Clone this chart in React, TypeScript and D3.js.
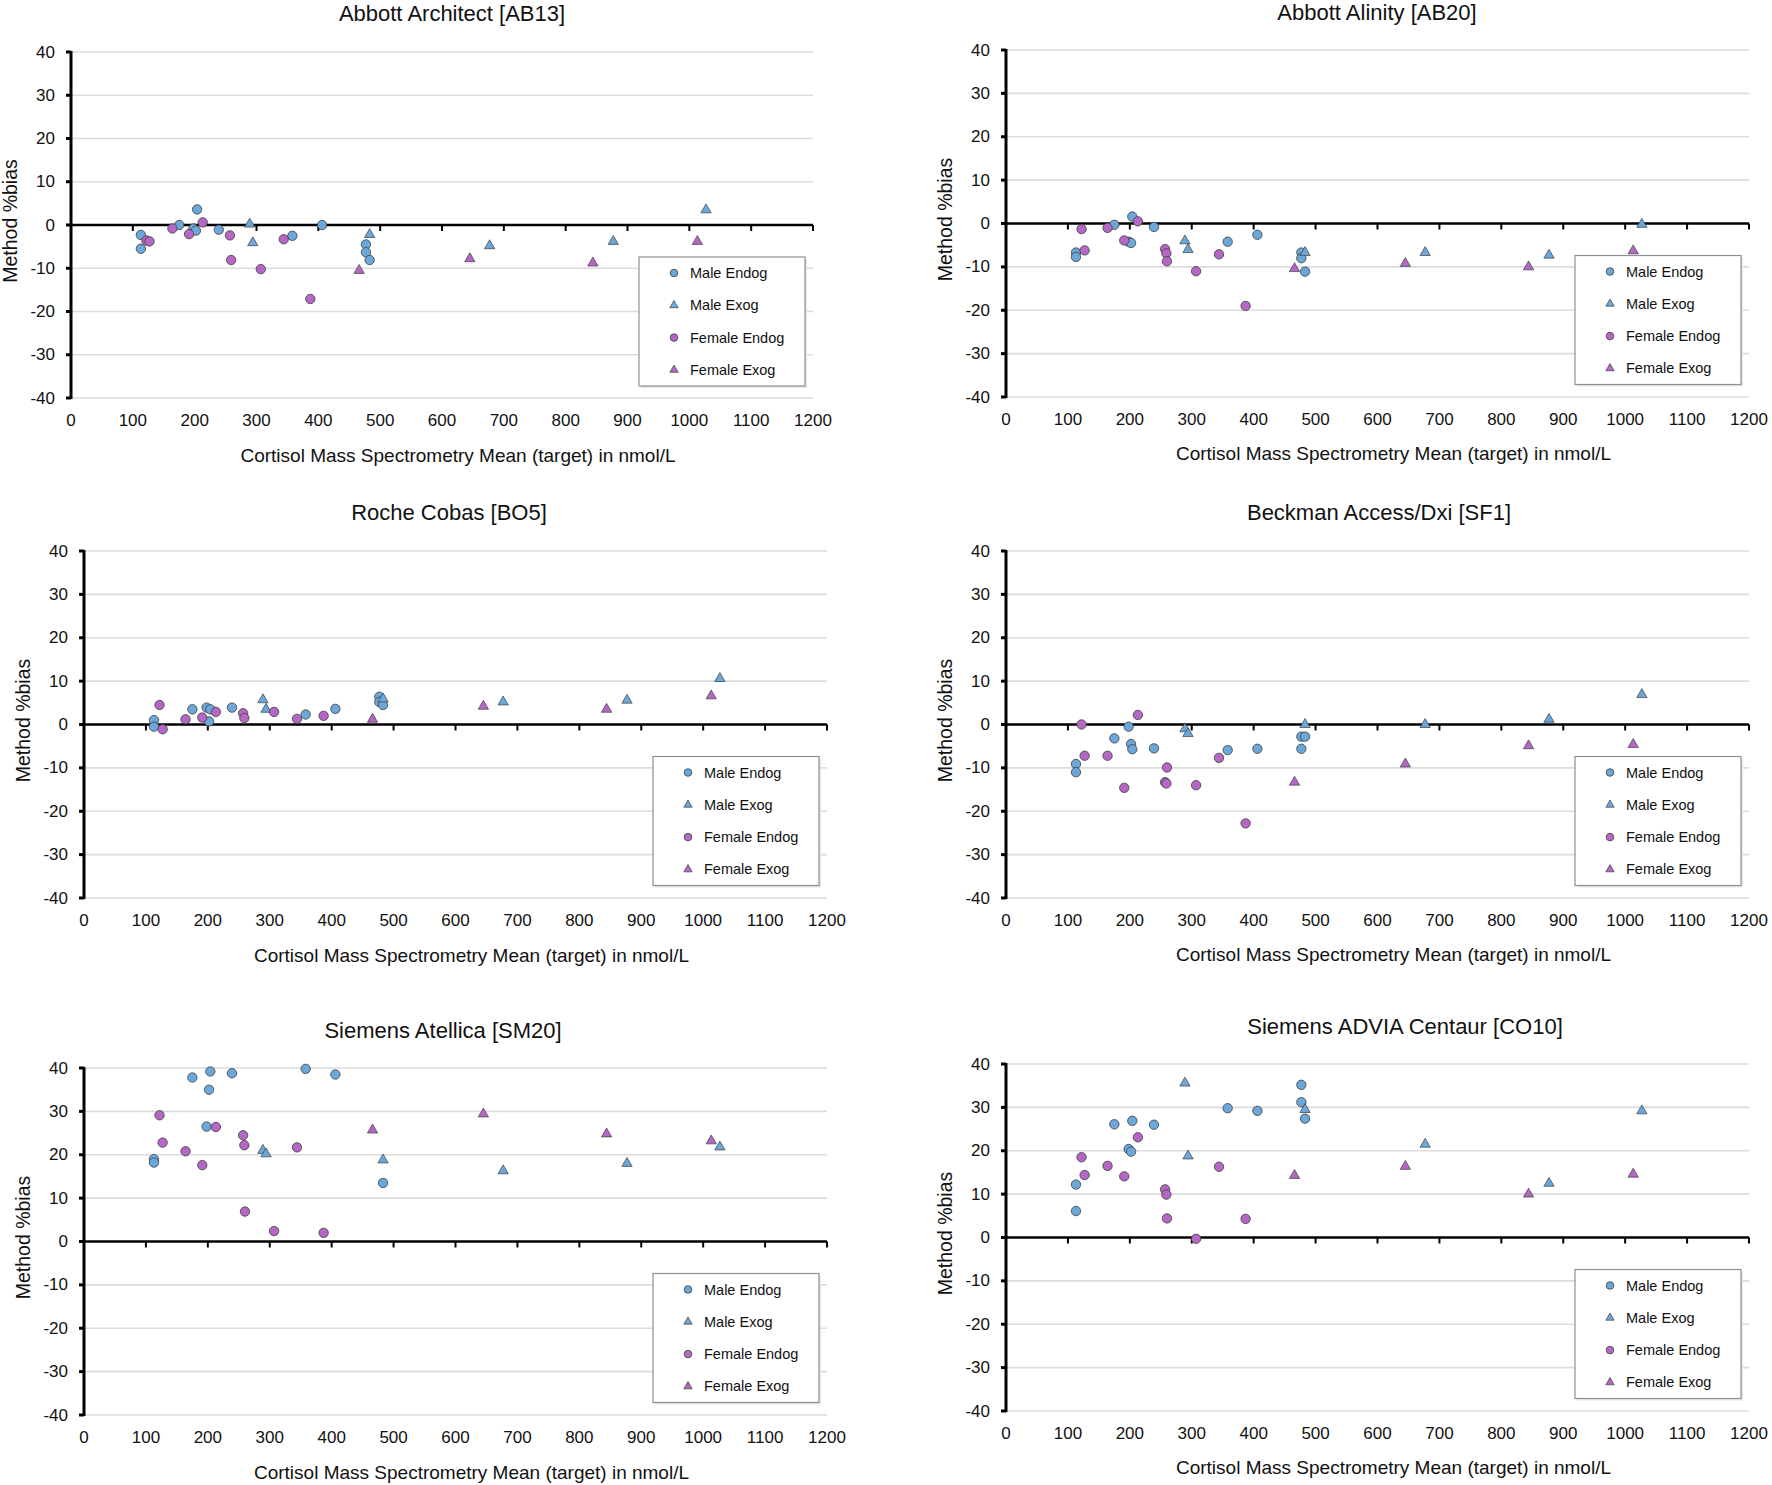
import React from 'react';
import * as d3 from 'd3';

// target values (x) shared by every analyser
const maleEndogTarget = [113, 113, 175, 198, 202, 204, 239, 358, 406, 477, 477, 483];
const maleExogTarget = [289, 294, 483, 677, 877, 1027];
const femaleEndogTarget = [122, 127, 164, 191, 213, 257, 259, 260, 307, 344, 387];
const femaleExogTarget = [466, 645, 844, 1013];

// %bias per analyser (null = not visible in the figure)
const ab13MaleEndog = [-2.3, -5.5, 0, -0.8, -1.3, 3.6, -1.1, -2.5, 0, -4.5, -6.3, -8.1];
const ab13MaleExog = [0.2, -4.1, -2.2, -4.8, -3.8, 3.5];
const ab13FemaleEndog = [-3.6, -3.8, -0.8, -2.1, 0.6, -2.4, -8.1, null, -10.2, -3.3, -17.1];
const ab13FemaleExog = [-10.5, -7.8, -8.8, -3.8];

const ab20MaleEndog = [-6.7, -7.7, -0.3, -4.2, -4.5, 1.6, -0.8, -4.2, -2.6, -6.7, -8.0, -11.1];
const ab20MaleExog = [-4.0, -6.0, -6.7, -6.7, -7.3, -0.2];
const ab20FemaleEndog = [-1.3, -6.2, -1.0, -3.9, 0.5, -5.9, -6.9, -8.7, -11.0, -7.1, -19.0];
const ab20FemaleExog = [-10.4, -9.2, -10.0, -6.3];

const bo5MaleEndog = [1.0, -0.5, 3.5, 3.9, 0.7, 3.5, 3.9, 2.3, 3.6, 6.4, 5.2, 4.5];
const bo5MaleExog = [5.7, 3.5, 5.9, 5.2, 5.6, 10.6];
const bo5FemaleEndog = [4.5, -1.1, 1.2, 1.6, 2.9, 2.6, 1.5, null, 2.9, 1.3, 2.0];
const bo5FemaleExog = [1.2, 4.2, 3.5, 6.6];

const sf1MaleEndog = [-9.1, -11.0, -3.2, -0.5, -4.5, -5.7, -5.5, -5.9, -5.6, -2.8, -5.6, -2.8];
const sf1MaleExog = [-1.0, -2.1, 0.0, 0.0, 1.2, 6.9];
const sf1FemaleEndog = [0.0, -7.2, -7.2, -14.6, 2.2, -13.3, -13.6, -9.9, -14.0, -7.7, -22.8];
const sf1FemaleExog = [-13.3, -9.1, -4.9, -4.6];

const sm20MaleEndog = [19.0, 18.2, 37.8, 26.5, 35.0, 39.2, 38.8, 39.8, 38.5, null, null, 13.5];
const sm20MaleExog = [21.0, 20.2, 18.8, 16.3, 18.0, 21.8];
const sm20FemaleEndog = [29.1, 22.8, 20.8, 17.6, 26.4, 24.5, 22.2, 6.9, 2.4, 21.7, 2.0];
const sm20FemaleExog = [25.7, 29.4, 24.8, 23.2];

const co10MaleEndog = [12.2, 6.1, 26.1, 20.4, 19.8, 26.9, 26.0, 29.8, 29.2, 35.2, 31.2, 27.4];
const co10MaleExog = [35.6, 18.8, 29.5, 21.5, 12.5, 29.2];
const co10FemaleEndog = [18.5, 14.4, 16.5, 14.1, 23.1, 11.1, 9.9, 4.4, -0.3, 16.3, 4.3];
const co10FemaleExog = [14.3, 16.4, 10.0, 14.6];

const xTicks = [0, 100, 200, 300, 400, 500, 600, 700, 800, 900, 1000, 1100, 1200];
const yTicks = [-40, -30, -20, -10, 0, 10, 20, 30, 40];
const seriesNames = ['Male Endog', 'Male Exog', 'Female Endog', 'Female Exog'];
const titles = [
  'Abbott Architect [AB13]',
  'Abbott Alinity [AB20]',
  'Roche Cobas [BO5]',
  'Beckman Access/Dxi [SF1]',
  'Siemens Atellica [SM20]',
  'Siemens ADVIA Centaur [CO10]',
];
const xTitle = 'Cortisol Mass Spectrometry Mean (target) in nmol/L';
const yTitle = 'Method %bias';

const BLUE = '#6ca7da';
const PURPLE = '#b567c5';
const FONT = '"Liberation Sans", Arial, sans-serif';

const seriesColor = [BLUE, BLUE, PURPLE, PURPLE];
const seriesTriangle = [false, true, false, true];
const targets = [maleEndogTarget, maleExogTarget, femaleEndogTarget, femaleExogTarget];

const panelBias = [
  [ab13MaleEndog, ab13MaleExog, ab13FemaleEndog, ab13FemaleExog],
  [ab20MaleEndog, ab20MaleExog, ab20FemaleEndog, ab20FemaleExog],
  [bo5MaleEndog, bo5MaleExog, bo5FemaleEndog, bo5FemaleExog],
  [sf1MaleEndog, sf1MaleExog, sf1FemaleEndog, sf1FemaleExog],
  [sm20MaleEndog, sm20MaleExog, sm20FemaleEndog, sm20FemaleExog],
  [co10MaleEndog, co10MaleExog, co10FemaleEndog, co10FemaleExog],
];

// plot rectangles and text anchors for each panel
const layout = [
  { left: 71, right: 813, top: 52, bottom: 398, titleX: 452, titleY: 13, xLabY: 455, yLabX: 10 },
  { left: 1006, right: 1749, top: 50, bottom: 397, titleX: 1377, titleY: 12, xLabY: 453, yLabX: 945 },
  { left: 84, right: 827, top: 551, bottom: 898, titleX: 449, titleY: 512, xLabY: 955, yLabX: 23 },
  { left: 1006, right: 1749, top: 551, bottom: 898, titleX: 1379, titleY: 512, xLabY: 954, yLabX: 945 },
  { left: 84, right: 827, top: 1068, bottom: 1415, titleX: 443, titleY: 1030, xLabY: 1472, yLabX: 23 },
  { left: 1006, right: 1749, top: 1064, bottom: 1411, titleX: 1405, titleY: 1026, xLabY: 1467, yLabX: 945 },
];

const bigTri = d3.symbol().type(d3.symbolTriangle).size(46)() as string;
const smallTri = d3.symbol().type(d3.symbolTriangle).size(30)() as string;

const Marker: React.FC<{ x: number; y: number; s: number; legend?: boolean }> = ({ x, y, s, legend }) => {
  if (seriesTriangle[s]) {
    return (
      <path
        d={legend ? smallTri : bigTri}
        transform={`translate(${x},${y})`}
        fill={seriesColor[s]}
        stroke="#3d3d3d"
        strokeWidth={0.7}
      />
    );
  }
  return (
    <circle cx={x} cy={y} r={legend ? 3.8 : 4.7} fill={seriesColor[s]} stroke="#3d3d3d" strokeWidth={0.8} />
  );
};

const Panel: React.FC<{ idx: number }> = ({ idx }) => {
  const L = layout[idx];
  const x = d3.scaleLinear().domain([0, 1200]).range([L.left, L.right]);
  const y = d3.scaleLinear().domain([-40, 40]).range([L.bottom, L.top]);
  const y0 = y(0);
  const legW = 166;
  const legH = 129;
  const legX = L.right - 8 - legW;
  const legY = y0 + 32;
  const rowGap = 32.3;

  return (
    <g fontFamily={FONT}>
      <text x={L.titleX} y={L.titleY} textAnchor="middle" dominantBaseline="central" fontSize={22} fill="#111">
        {titles[idx]}
      </text>

      {yTicks
        .filter((t) => t !== 0)
        .map((t) => (
          <line key={t} x1={L.left} x2={L.right} y1={y(t)} y2={y(t)} stroke="#dcdcdc" strokeWidth={1.6} />
        ))}

      {/* y axis */}
      <line x1={L.left} x2={L.left} y1={L.top - 1} y2={L.bottom + 1} stroke="#000" strokeWidth={3} />
      {yTicks.map((t) => (
        <g key={t}>
          <line x1={L.left - 5} x2={L.left} y1={y(t)} y2={y(t)} stroke="#000" strokeWidth={3} />
          <text x={L.left - 16} y={y(t)} textAnchor="end" dominantBaseline="central" fontSize={17} fill="#111">
            {t}
          </text>
        </g>
      ))}

      {/* x axis on the zero line, labels at the bottom */}
      <line x1={L.left} x2={L.right} y1={y0} y2={y0} stroke="#000" strokeWidth={2.5} />
      {xTicks.map((t) => (
        <g key={t}>
          {t > 0 && <line x1={x(t)} x2={x(t)} y1={y0} y2={y0 + 6} stroke="#000" strokeWidth={2} />}
          <text x={x(t)} y={L.bottom + 22} textAnchor="middle" dominantBaseline="central" fontSize={17} fill="#111">
            {t}
          </text>
        </g>
      ))}

      <text
        x={(L.left + L.right) / 2 + 16}
        y={L.xLabY}
        textAnchor="middle"
        dominantBaseline="central"
        fontSize={19}
        fill="#111"
      >
        {xTitle}
      </text>
      <text
        transform={`translate(${L.yLabX},${(L.top + L.bottom) / 2 - 4}) rotate(-90)`}
        textAnchor="middle"
        dominantBaseline="central"
        fontSize={19.5}
        fill="#111"
      >
        {yTitle}
      </text>

      {panelBias[idx].map((vals, s) =>
        vals.map((v, i) =>
          v === null ? null : <Marker key={`${s}-${i}`} x={x(targets[s][i])} y={y(v)} s={s} />
        )
      )}

      {/* legend */}
      <rect x={legX + 2} y={legY + 2} width={legW} height={legH} fill="#e6e6e6" />
      <rect x={legX} y={legY} width={legW} height={legH} fill="#fff" stroke="#8f8f8f" strokeWidth={1.2} />
      {seriesNames.map((name, s) => (
        <g key={name}>
          <Marker x={legX + 35} y={legY + 16 + s * rowGap} s={s} legend />
          <text x={legX + 51} y={legY + 16 + s * rowGap} dominantBaseline="central" fontSize={14.5} fill="#111">
            {name}
          </text>
        </g>
      ))}
    </g>
  );
};

export default function App() {
  return (
    <svg
      width={1772}
      height={1485}
      viewBox="0 0 1772 1485"
      style={{ position: 'absolute', left: 0, top: 0, background: '#fff' }}
    >
      <rect width={1772} height={1485} fill="#fff" />
      {layout.map((_, i) => (
        <Panel key={i} idx={i} />
      ))}
    </svg>
  );
}
